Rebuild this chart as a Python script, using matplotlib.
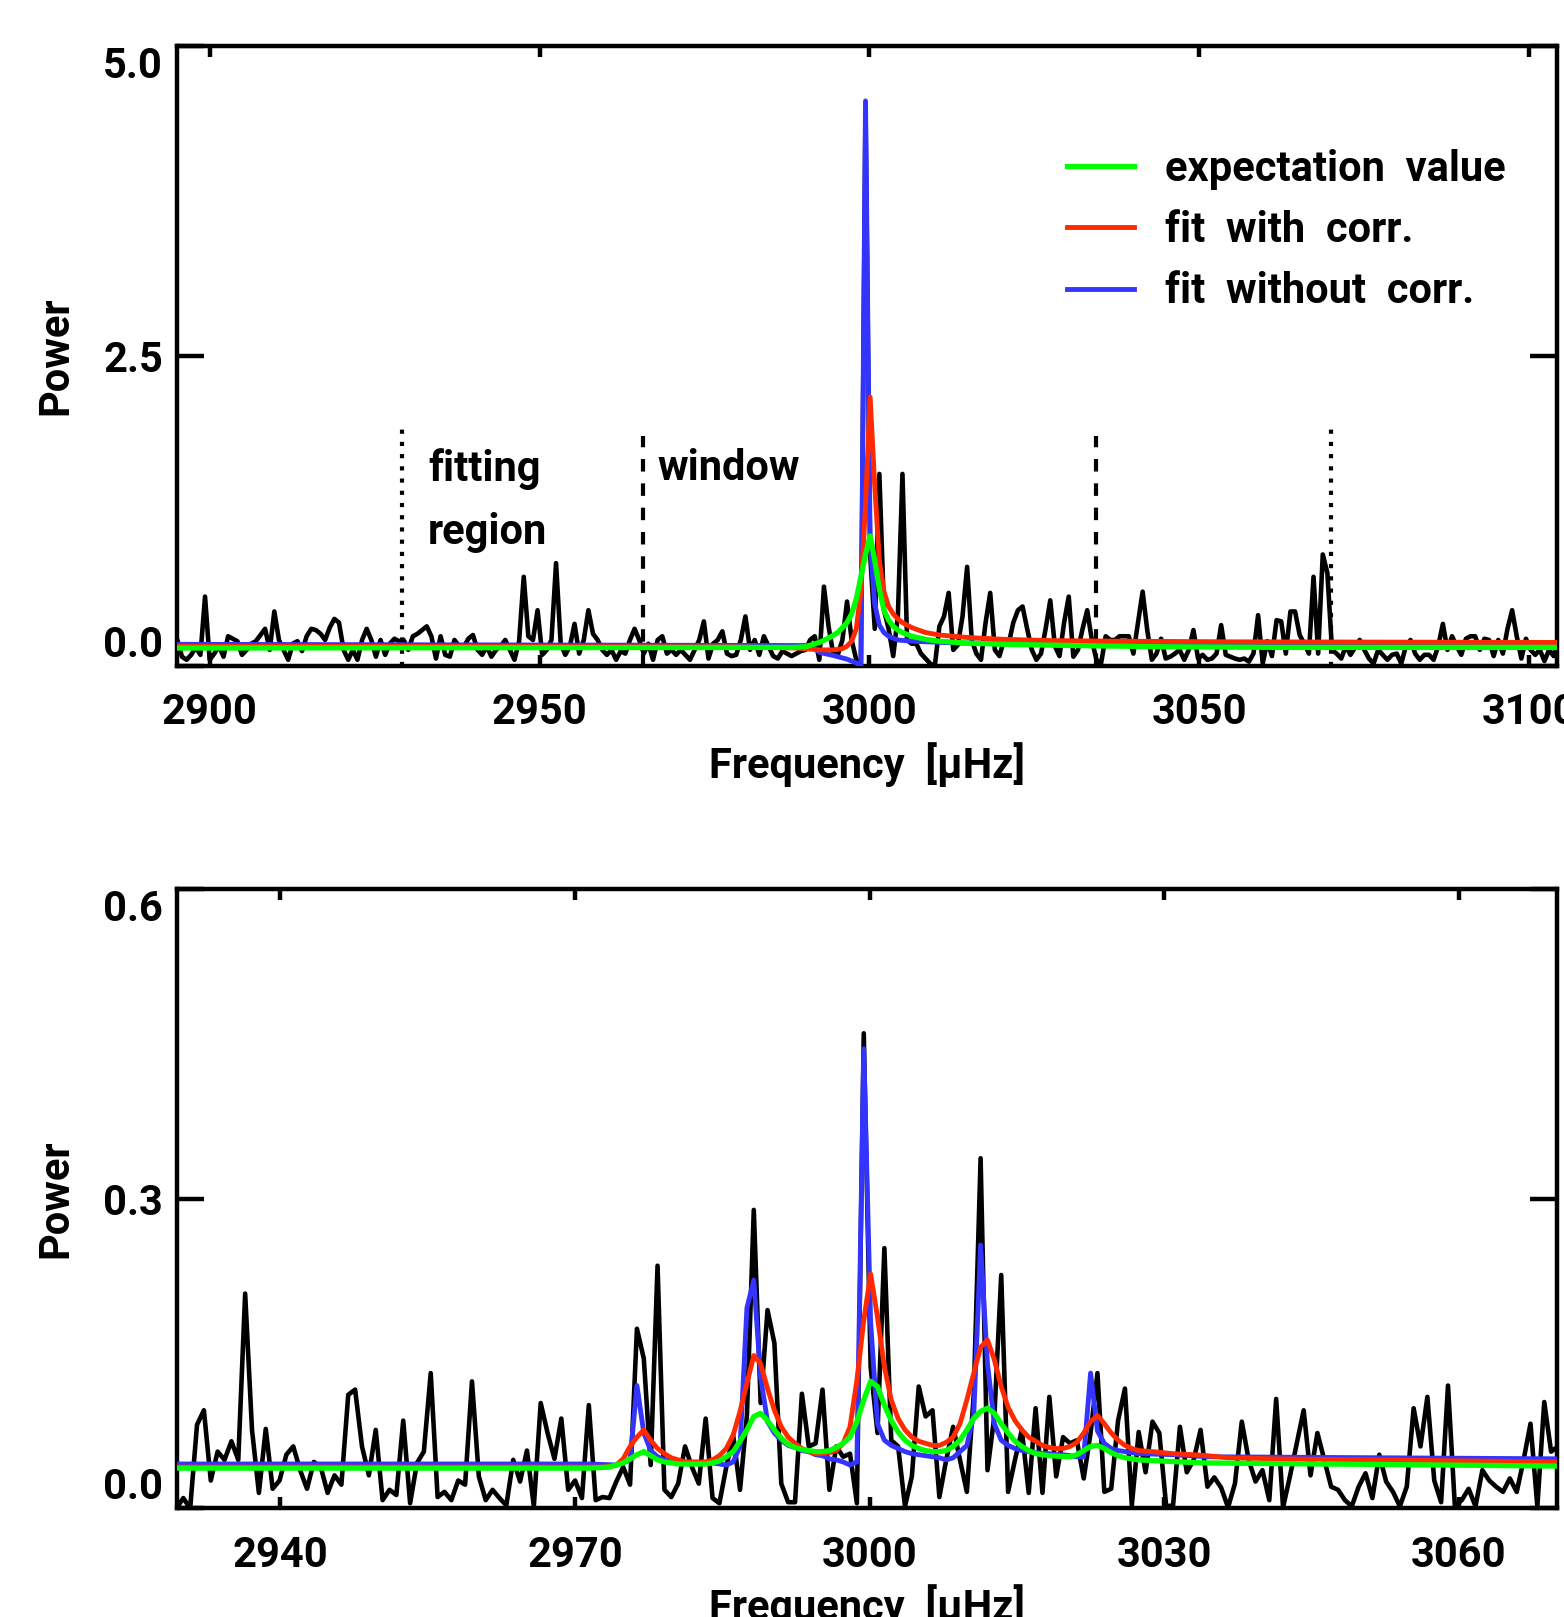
import numpy as np
import matplotlib
matplotlib.use('Agg')
import matplotlib.pyplot as plt
from matplotlib.lines import Line2D

plt.rcParams['font.family'] = ['Roboto', 'DejaVu Sans']
plt.rcParams['font.weight'] = 'bold'
plt.rcParams['lines.scale_dashes'] = False
FS = 30

# ---------------- top panel: single mode ----------------
top_f0, top_df = 2894.4, 0.7          # frequency of first bin, bin width [muHz]
top_power = [
    0.25, 0.21, 0.075, 0.05, 0.09, 0.15, 0.09, 0.56, 0.05, 0.10,
    0.16, 0.075, 0.24, 0.22, 0.20, 0.09, 0.13, 0.18, 0.20, 0.25,
    0.30, 0.13, 0.44, 0.21, 0.13, 0.05, 0.18, 0.20, 0.12, 0.24,
    0.30, 0.29, 0.26, 0.21, 0.31, 0.38, 0.35, 0.13, 0.05, 0.13,
    0.05, 0.21, 0.30, 0.21, 0.075, 0.21, 0.09, 0.18, 0.22, 0.20,
    0.21, 0.13, 0.24, 0.26, 0.29, 0.32, 0.24, 0.06, 0.24, 0.09,
    0.075, 0.21, 0.16, 0.15, 0.22, 0.25, 0.13, 0.09, 0.16, 0.075,
    0.13, 0.16, 0.21, 0.13, 0.05, 0.20, 0.72, 0.24, 0.21, 0.45,
    0.09, 0.13, 0.21, 0.83, 0.18, 0.09, 0.16, 0.34, 0.10, 0.21,
    0.45, 0.26, 0.21, 0.13, 0.09, 0.13, 0.05, 0.12, 0.10, 0.21,
    0.30, 0.21, 0.10, 0.18, 0.05, 0.21, 0.24, 0.10, 0.13, 0.09,
    0.13, 0.09, 0.05, 0.13, 0.21, 0.36, 0.06, 0.18, 0.21, 0.28,
    0.10, 0.08, 0.09, 0.21, 0.40, 0.13, 0.21, 0.09, 0.24, 0.16,
    0.08, 0.06, 0.12, 0.10, 0.08, 0.10, 0.12, 0.13, 0.21, 0.24,
    0.05, 0.64, 0.32, 0.10, 0.09, 0.21, 0.52, 0.21, 0.05, 0.01,
    4.50, 0.90, 0.30, 1.55, 0.45, 0.30, 0.08, 0.40, 1.55, 0.21,
    0.18, 0.18, 0.10, 0.06, 0.02, 0.00, 0.32, 0.40, 0.59, 0.13,
    0.17, 0.40, 0.80, 0.21, 0.10, 0.05, 0.35, 0.59, 0.13, 0.08,
    0.21, 0.18, 0.35, 0.45, 0.48, 0.30, 0.13, 0.05, 0.10, 0.30,
    0.53, 0.16, 0.08, 0.35, 0.56, 0.075, 0.13, 0.30, 0.45, 0.21,
    0.05, 0.02, 0.24, 0.21, 0.21, 0.24, 0.24, 0.24, 0.10, 0.35,
    0.60, 0.29, 0.05, 0.10, 0.22, 0.06, 0.075, 0.10, 0.13, 0.05,
    0.13, 0.29, 0.06, 0.09, 0.05, 0.06, 0.10, 0.33, 0.09, 0.075,
    0.06, 0.05, 0.06, 0.035, 0.10, 0.41, 0.02, 0.20, 0.08, 0.37,
    0.36, 0.10, 0.44, 0.44, 0.25, 0.18, 0.10, 0.72, 0.10, 0.90,
    0.75, 0.13, 0.10, 0.06, 0.16, 0.09, 0.15, 0.21, 0.13, 0.06,
    0.02, 0.13, 0.09, 0.05, 0.09, 0.10, 0.02, 0.16, 0.21, 0.10,
    0.05, 0.09, 0.09, 0.05, 0.16, 0.34, 0.13, 0.24, 0.16, 0.09,
    0.22, 0.24, 0.24, 0.13, 0.22, 0.21, 0.08, 0.21, 0.10, 0.30,
    0.45, 0.24, 0.06, 0.22, 0.13, 0.09, 0.13, 0.04, 0.13, 0.08,
    0.20,
]
# model curves: bin indices and values
top_green_idx = [0, 134, 137, 140, 142, 144, 146, 147, 148, 149, 150, 151, 152, 153, 154,
                 155, 156, 157, 158, 160, 163, 166, 172, 180, 195, 215, 240, 300]
top_green_val = [0.145, 0.15, 0.155, 0.19, 0.225, 0.27, 0.35, 0.42, 0.54, 0.72, 0.90, 1.05, 0.85,
                 0.62, 0.45, 0.37, 0.32, 0.29, 0.27, 0.24, 0.215, 0.20, 0.185, 0.175, 0.165,
                 0.155, 0.15, 0.15]
top_red_idx = [0, 120, 135, 140, 143, 145, 146, 147, 148, 149, 150, 151, 152, 153, 154,
               155, 156, 157, 158, 160, 163, 166, 172, 180, 190, 205, 230, 300]
top_red_val = [0.16, 0.155, 0.145, 0.13, 0.13, 0.14, 0.16, 0.20, 0.30, 0.60, 1.30, 2.17, 1.45,
               0.85, 0.60, 0.48, 0.42, 0.38, 0.35, 0.31, 0.27, 0.25, 0.23, 0.215, 0.205,
               0.20, 0.195, 0.19]
top_blue_idx = [0, 138, 140, 143, 146, 148, 149, 150, 151, 152, 153, 154, 155, 157, 160, 170, 300]
top_blue_val = [0.175, 0.165, 0.11, 0.085, 0.055, 0.025, 0.0, 4.56, 1.0, 0.5, 0.33, 0.27,
                0.24, 0.21, 0.20, 0.185, 0.18]

fit_region = [2929.2, 3070.0]
fit_region_top = 1.95
window = [2965.65, 3034.3]
window_top = 1.86

# ---------------- bottom panel: several modes ----------------
bot_f0, bot_df = 2929.4, 0.7
bot_power = [
    0.000, 0.010, 0.000, 0.081, 0.095, 0.027, 0.055, 0.047, 0.065, 0.047,
    0.208, 0.076, 0.015, 0.077, 0.019, 0.027, 0.052, 0.060, 0.037, 0.019,
    0.045, 0.040, 0.015, 0.032, 0.023, 0.110, 0.115, 0.060, 0.032, 0.076,
    0.008, 0.018, 0.013, 0.085, 0.005, 0.044, 0.055, 0.131, 0.011, 0.016,
    0.008, 0.027, 0.023, 0.123, 0.031, 0.008, 0.018, 0.010, 0.003, 0.047,
    0.026, 0.056, 0.002, 0.102, 0.073, 0.048, 0.087, 0.018, 0.027, 0.010,
    0.100, 0.008, 0.011, 0.010, 0.026, 0.040, 0.023, 0.174, 0.145, 0.042,
    0.235, 0.018, 0.011, 0.024, 0.060, 0.040, 0.024, 0.087, 0.010, 0.005,
    0.040, 0.071, 0.018, 0.090, 0.289, 0.102, 0.192, 0.160, 0.024, 0.006,
    0.006, 0.111, 0.060, 0.063, 0.115, 0.018, 0.060, 0.050, 0.053, 0.005,
    0.460, 0.137, 0.073, 0.252, 0.066, 0.060, 0.002, 0.031, 0.118, 0.089,
    0.095, 0.011, 0.047, 0.079, 0.047, 0.016, 0.110, 0.339, 0.037, 0.089,
    0.226, 0.016, 0.047, 0.076, 0.015, 0.097, 0.015, 0.108, 0.031, 0.069,
    0.063, 0.066, 0.029, 0.073, 0.131, 0.016, 0.019, 0.085, 0.116, 0.003,
    0.074, 0.035, 0.084, 0.073, 0.002, 0.003, 0.079, 0.035, 0.047, 0.076,
    0.021, 0.030, 0.020, 0.001, 0.024, 0.084, 0.047, 0.026, 0.037, 0.008,
    0.106, 0.001, 0.031, 0.063, 0.095, 0.032, 0.073, 0.047, 0.021, 0.018,
    0.008, 0.002, 0.021, 0.034, 0.010, 0.052, 0.026, 0.016, 0.002, 0.021,
    0.097, 0.060, 0.108, 0.027, 0.006, 0.119, 0.002, 0.008, 0.019, 0.002,
    0.037, 0.027, 0.021, 0.016, 0.029, 0.016, 0.047, 0.082, 0.002, 0.103,
    0.055, 0.060,
]
bot_green_idx = [0, 60, 63, 64, 65, 66, 67, 68, 69, 70, 71, 73, 75, 77, 78, 79, 80, 81, 82, 83,
                 84, 85, 86, 87, 88, 89, 90, 91, 92, 93, 94, 95, 96, 97, 98, 99, 100, 101, 102,
                 103, 104, 105, 106, 107, 108, 109, 110, 111, 112, 113, 114, 115, 116, 117, 118,
                 119, 120, 121, 122, 123, 124, 125, 126, 127, 130, 131, 132, 133, 134, 135, 136,
                 137, 138, 140, 143, 146, 150, 201]
bot_green_val = [0.039, 0.039, 0.040, 0.042, 0.044, 0.048, 0.052, 0.055, 0.051, 0.047,
                 0.045, 0.043, 0.043, 0.043, 0.044, 0.046, 0.050, 0.055, 0.065, 0.076,
                 0.089, 0.092, 0.085, 0.076, 0.068, 0.062, 0.059, 0.057, 0.056, 0.055,
                 0.055, 0.056, 0.059, 0.063, 0.069, 0.084, 0.105, 0.123, 0.118,
                 0.100, 0.085, 0.074, 0.066, 0.061, 0.058, 0.056, 0.055, 0.055, 0.056,
                 0.060, 0.066, 0.076, 0.087, 0.094, 0.097, 0.092, 0.082, 0.073, 0.065,
                 0.060, 0.056, 0.053, 0.052, 0.051, 0.050, 0.052, 0.056, 0.060, 0.061,
                 0.058, 0.054, 0.051, 0.049, 0.047, 0.046, 0.045, 0.044, 0.041]
bot_red_idx = [0, 62, 64, 65, 66, 67, 68, 69, 70, 71, 72, 73, 74] + list(range(76, 141)) + \
              [142, 145, 148, 150, 153, 160, 201]
bot_red_val = [0.040, 0.040, 0.042, 0.048, 0.060, 0.069, 0.076, 0.066, 0.058, 0.053, 0.049,
               0.047, 0.045,
               0.045, 0.045, 0.047, 0.051, 0.058, 0.071, 0.094, 0.121, 0.148, 0.140, 0.116,
               0.095, 0.079, 0.069, 0.063, 0.058, 0.055, 0.053, 0.053, 0.054, 0.056, 0.063,
               0.079, 0.124, 0.182, 0.227, 0.185, 0.137, 0.105, 0.087, 0.076, 0.069, 0.065,
               0.063, 0.061, 0.061, 0.064, 0.069, 0.082, 0.105, 0.131, 0.156, 0.163, 0.144,
               0.118, 0.098, 0.085, 0.076, 0.069, 0.065, 0.061, 0.059, 0.058, 0.058, 0.060,
               0.064, 0.073, 0.084, 0.090, 0.082, 0.073, 0.066, 0.061, 0.058, 0.056,
               0.055, 0.053, 0.052, 0.051, 0.049, 0.048, 0.045]
bot_blue_idx = [0, 60, 64, 65, 66, 67, 68, 69, 70, 71, 72, 74, 76] + list(range(78, 139)) + \
               [140, 145, 150, 201]
bot_blue_val = [0.043, 0.043, 0.042, 0.044, 0.047, 0.119, 0.073, 0.056, 0.050, 0.047, 0.046,
                0.045, 0.044,
                0.044, 0.043, 0.042, 0.045, 0.060, 0.194, 0.221, 0.127, 0.084, 0.073, 0.066,
                0.061, 0.059, 0.056, 0.055, 0.052, 0.051, 0.048, 0.047, 0.045, 0.042, 0.045,
                0.445, 0.180, 0.082, 0.066, 0.061, 0.058, 0.055, 0.053, 0.052, 0.051, 0.050,
                0.049, 0.047, 0.049, 0.055, 0.061, 0.090, 0.255, 0.140, 0.082, 0.066, 0.061,
                0.058, 0.056, 0.055, 0.054, 0.053, 0.053, 0.052, 0.052, 0.051, 0.050, 0.050,
                0.131, 0.075, 0.063, 0.058, 0.056, 0.055,
                0.053, 0.052, 0.050, 0.048]

legend_labels = ['expectation  value', 'fit  with  corr.', 'fit  without  corr.']
GREEN, RED, BLUE = '#00ff00', '#ff2a00', '#3434ff'

# ---------------- figure ----------------
fig = plt.figure(figsize=(15.64, 16.17), dpi=100)
ax1 = fig.add_axes([0.11317, 0.58813, 0.88235, 0.38318])
ax2 = fig.add_axes([0.11317, 0.06716, 0.88235, 0.38324])

LW_BLACK, LW_CURVE, LW_GREEN = 3.3, 3.5, 3.8


def draw_panel(ax, f0, df, power, curves):
    f = f0 + df * np.arange(len(power))
    ax.plot(f, power, color='black', lw=LW_BLACK, zorder=2)
    for idx, val, col, lw, z in curves:
        ax.plot(f[np.array(idx)], val, color=col, lw=lw, zorder=z)


draw_panel(ax1, top_f0, top_df, top_power,
           [(top_blue_idx, top_blue_val, BLUE, LW_CURVE, 3),
            (top_red_idx, top_red_val, RED, LW_CURVE, 4),
            (top_green_idx, top_green_val, GREEN, LW_GREEN, 5)])
draw_panel(ax2, bot_f0, bot_df, bot_power,
           [(bot_blue_idx, bot_blue_val, BLUE, LW_CURVE, 3),
            (bot_red_idx, bot_red_val, RED, LW_CURVE, 4),
            (bot_green_idx, bot_green_val, GREEN, LW_GREEN, 5)])

for x in fit_region:
    ax1.plot([x, x], [0, fit_region_top], color='black', lw=3.0,
             linestyle=(0, (3.0, 5.8)), zorder=2)
for x in window:
    ax1.plot([x, x], [0, window_top], color='black', lw=3.0,
             linestyle=(0, (9.0, 8.5)), zorder=2)

ax1.text(2933.1, 1.59, 'fitting', fontsize=FS, ha='left', va='center')
ax1.text(2933.1, 1.08, 'region', fontsize=FS, ha='left', va='center')
ax1.text(2967.9, 1.59, 'window', fontsize=FS, ha='left', va='center')

handles = [Line2D([], [], color=GREEN, lw=LW_GREEN),
           Line2D([], [], color=RED, lw=LW_CURVE),
           Line2D([], [], color=BLUE, lw=LW_CURVE)]
ax1.legend(handles, legend_labels, loc='upper left', bbox_to_anchor=(0.645, 0.835),
           frameon=False, fontsize=FS, handlelength=1.6, handletextpad=0.75,
           labelspacing=0.49, borderpad=0, borderaxespad=0)


def style(ax, xlim, ylim, xticks, yticks, ylabels):
    ax.set_xlim(*xlim)
    ax.set_ylim(*ylim)
    ax.set_xticks(xticks)
    ax.set_xticklabels([str(t) for t in xticks])
    ax.set_yticks(yticks)
    ax.set_yticklabels(ylabels)
    for s in ax.spines.values():
        s.set_linewidth(3.2)
    ax.tick_params(axis='both', which='major', direction='in', top=True, right=True,
                   width=3.2, labelsize=FS)
    ax.tick_params(axis='x', length=8, pad=19)
    ax.tick_params(axis='y', length=19.5, pad=10)
    labs = ax.get_yticklabels()
    labs[0].set_verticalalignment('bottom')
    labs[-1].set_verticalalignment('top')
    ax.set_xlabel('Frequency  [μHz]', fontsize=FS, fontweight='bold')
    ax.set_ylabel('Power', fontsize=FS, fontweight='bold')
    ax.xaxis.set_label_coords(0.5, -0.123)
    ax.yaxis.set_label_coords(-0.073, 0.5)


style(ax1, (2895.05, 3104.2), (0, 5), [2900, 2950, 3000, 3050, 3100],
      [0, 2.5, 5.0], ['0.0', '2.5', '5.0'])
style(ax2, (2929.46, 3070.0), (0, 0.6), [2940, 2970, 3000, 3030, 3060],
      [0, 0.3, 0.6], ['0.0', '0.3', '0.6'])

fig.savefig('out.png', dpi=100)
